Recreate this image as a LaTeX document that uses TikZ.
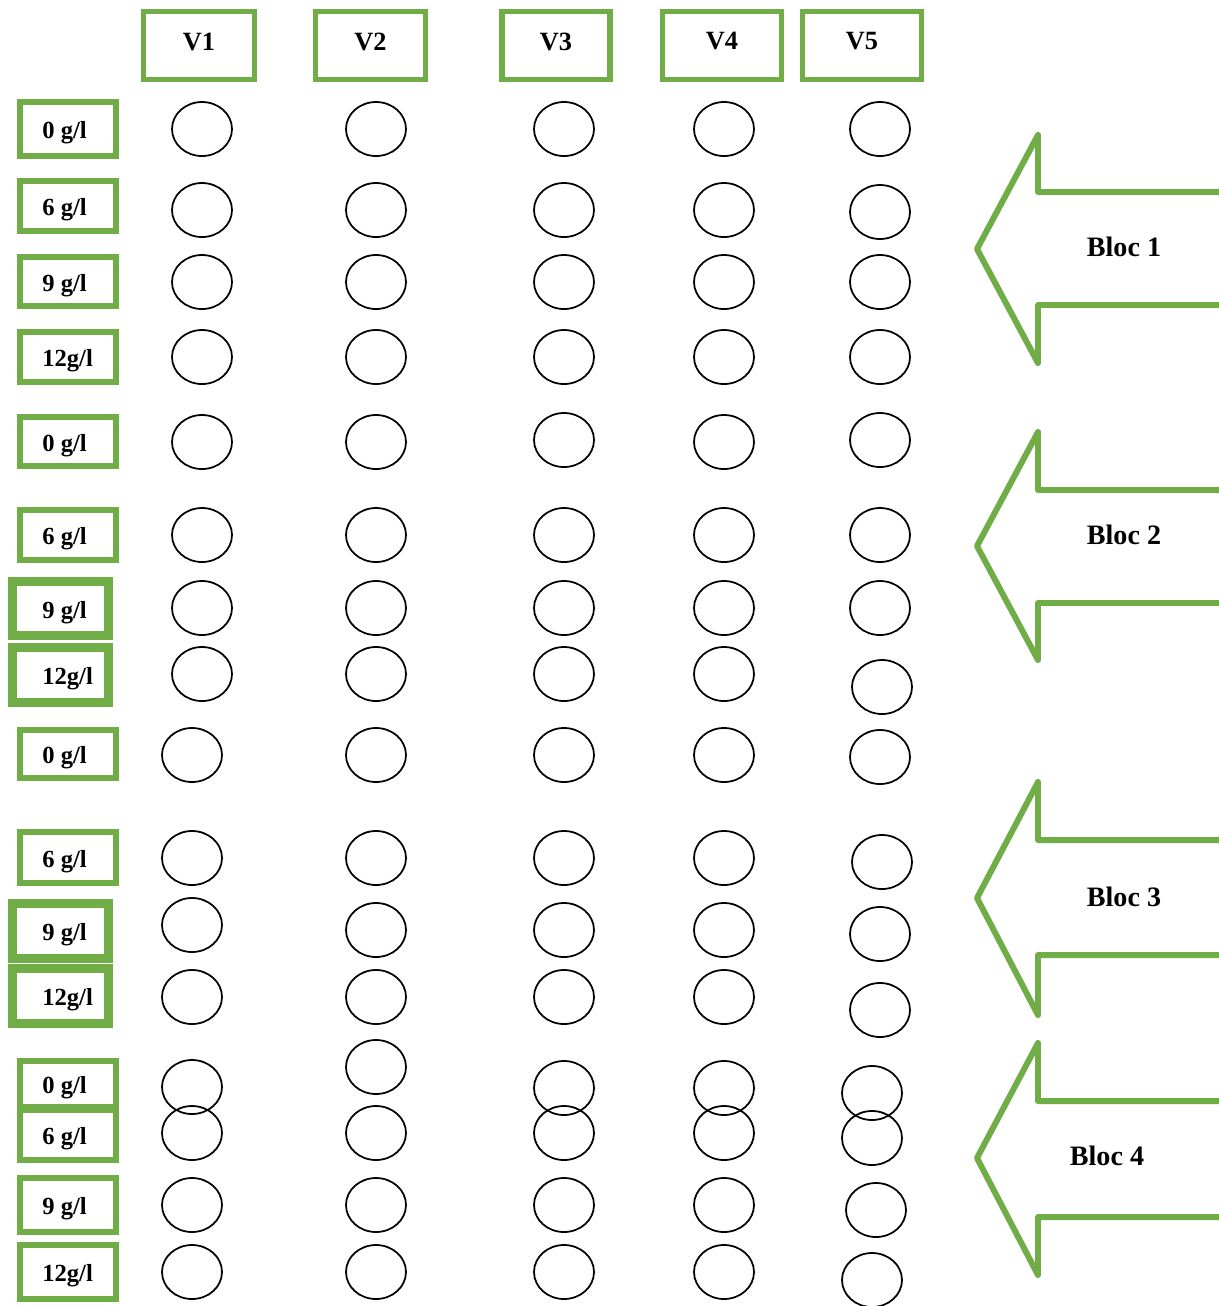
\documentclass[tikz,border=0pt]{standalone}
\usepackage{fontspec}
\setmainfont{Liberation Serif}
\usetikzlibrary{shapes.geometric}
\definecolor{LeafGreen}{RGB}{112, 173, 71}
\newcommand{\pxu}{0.02cm}
\tikzset{
    greenbox/.style={rectangle, draw=LeafGreen, line width=3.4pt, inner sep=0pt},
    thickbox/.style={greenbox, line width=5.1pt},
    varlabel/.style={font=\fontsize{15}{17}\selectfont\bfseries},
    doselabel/.style={font=\fontsize{14}{16}\selectfont\bfseries, anchor=west, inner sep=0pt, yshift=-2.3pt},
    bloclabel/.style={font=\fontsize{16}{18}\selectfont\bfseries},
    plot/.style={ellipse, draw=black, line width=1pt, minimum width=60*\pxu, minimum height=54*\pxu, inner sep=0pt},
    blocarrow/.style={draw=LeafGreen, line width=3.4pt, line join=round}
}

\begin{document}
\begin{tikzpicture}[x=\pxu, y=-\pxu]
    \useasboundingbox (0,0) rectangle (1219,1306);

    % variety headers
    \foreach \cx/\w/\v in {199/111/V1, 370.5/110/V2, 556/108/V3, 722/119/V4, 862/119/V5}
    {
        \node[greenbox, minimum width=\w*\pxu, minimum height=68*\pxu] (\v) at (\cx,45.5) {};
        \node[varlabel] (\v-t) at (\cx,41.5) {\v};
    }

    % dose boxes
    \foreach \y/\h/\t [count=\r] in {129/54/{0 g/l}, 206/50/{6 g/l}, 281.5/49/{9 g/l}, 357/50/{12g/l},
                                    441.5/49/{0 g/l}, 535/50/{6 g/l}, 754/48/{0 g/l}, 857.5/51/{6 g/l},
                                    1084/46/{0 g/l}, 1135/50/{6 g/l}, 1205/54/{9 g/l}, 1272/54/{12g/l}}
    {
        \node[greenbox, minimum width=96*\pxu, minimum height=\h*\pxu] (d\r) at (68,\y) {};
        \node[doselabel] (dt\r) at (42,\y) {\t};
    }
    \foreach \y/\h/\t [count=\r] in {608.5/54/{9 g/l}, 675/55/{12g/l}, 931/55/{9 g/l}, 996/55/{12g/l}}
    {
        \node[thickbox, minimum width=96*\pxu, minimum height=\h*\pxu] (k\r) at (60.5,\y) {};
        \node[doselabel] (kt\r) at (42,\y) {\t};
    }

    % plots
    \foreach \x/\y [count=\r] in {202/129, 202/210, 202/282, 202/357, 202/442, 202/535, 202/608, 202/674,
                                 192/755, 192/858, 192/925, 192/997, 192/1087, 192/1133, 192/1205, 192/1272}
        \node[plot] (p1-\r) at (\x,\y) {};
    \foreach \y [count=\r] in {129, 210, 282, 357, 442, 535, 608, 674, 755, 858, 930, 997, 1067, 1133, 1205, 1272}
        \node[plot] (p2-\r) at (376,\y) {};
    \foreach \y [count=\r] in {129, 210, 282, 357, 440, 535, 608, 674, 755, 858, 930, 997, 1088, 1133, 1205, 1272}
        \node[plot] (p3-\r) at (564,\y) {};
    \foreach \y [count=\r] in {129, 210, 282, 357, 442, 535, 608, 674, 755, 858, 930, 997, 1088, 1133, 1205, 1272}
        \node[plot] (p4-\r) at (724,\y) {};
    \foreach \x/\y [count=\r] in {880/129, 880/212, 880/282, 880/357, 880/440, 880/535, 880/608, 882/687,
                                 880/757, 882/862, 880/934, 880/1010, 872/1093, 872/1138, 876/1210, 872/1280}
        \node[plot] (p5-\r) at (\x,\y) {};

    % bloc arrows
    \foreach \ty/\hy/\sy/\by/\ey [count=\b] in {135/192/305/363/249, 432/490/603/660/546,
                                                782/840/955/1015/898, 1043/1101/1217/1275/1158}
        \draw[blocarrow] (1240,\hy) -- (1038,\hy) -- (1038,\ty) -- (977,\ey) -- (1038,\by) -- (1038,\sy) -- (1240,\sy);

    \node[bloclabel] (bloc1) at (1124,247) {Bloc 1};
    \node[bloclabel] (bloc2) at (1124,535) {Bloc 2};
    \node[bloclabel] (bloc3) at (1124,897) {Bloc 3};
    \node[bloclabel] (bloc4) at (1107,1156) {Bloc 4};
\end{tikzpicture}
\end{document}
